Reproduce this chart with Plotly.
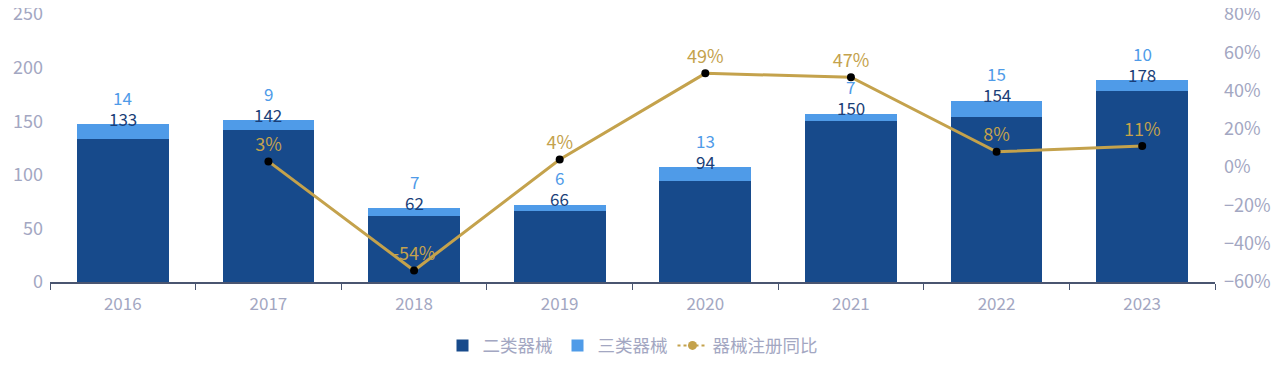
import plotly.graph_objects as go

years = [2016, 2017, 2018, 2019, 2020, 2021, 2022, 2023]
class2 = [133, 142, 62, 66, 94, 150, 154, 178]
class3 = [14, 9, 7, 6, 13, 7, 15, 10]
yoy_years = [2017, 2018, 2019, 2020, 2021, 2022, 2023]
yoy = [3, -54, 4, 49, 47, 8, 11]

DARK = "#174a8b"
LIGHT = "#4f9be8"
GOLD = "#c4a24c"
AXIS = "#a3a7c2"
FONT = "Noto Sans CJK SC"

fig = go.Figure()
fig.add_bar(x=years, y=class2, name="二类器械", marker=dict(color=DARK, line=dict(width=0)),
            width=0.63)
fig.add_bar(x=years, y=class3, name="三类器械", marker=dict(color=LIGHT, line=dict(width=0)),
            width=0.63)
fig.add_scatter(x=yoy_years, y=yoy, yaxis="y2", mode="lines+markers+text",
                line=dict(color=GOLD, width=3),
                marker=dict(color="black", size=8),
                text=[f"{v}%" for v in yoy], textposition="top center",
                textfont=dict(color=GOLD, size=18, family=FONT),
                showlegend=False, cliponaxis=False)
fig.add_scatter(x=[years[0]], y=[None], yaxis="y2", mode="lines+markers", name="器械注册同比",
                line=dict(color=GOLD, width=2, dash="dot"),
                marker=dict(color=GOLD, size=9))

for x, a, b in zip(years, class2, class3):
    fig.add_annotation(x=x, y=a + b, yanchor="middle", showarrow=False, yshift=6,
                       text=str(a), font=dict(size=17, family=FONT, color="#1b3f78"))
    fig.add_annotation(x=x, y=a + b, yanchor="middle", showarrow=False, yshift=27,
                       text=str(b), font=dict(size=17, family=FONT, color=LIGHT))

boundaries = [y - 0.5 for y in years] + [years[-1] + 0.5]

fig.update_layout(
    barmode="stack",
    width=1264, height=366,
    margin=dict(l=42, r=57, t=6, b=92, autoexpand=False),
    plot_bgcolor="white", paper_bgcolor="white",
    font=dict(family=FONT, color=AXIS, size=16),
    xaxis=dict(type="linear", range=[years[0] - 0.5, years[-1] + 0.5],
               tickvals=years, ticktext=[str(y) for y in years],
               showline=True, linecolor="#4a5570", linewidth=1.5, ticks="",
               ticklabelstandoff=6,
               minor=dict(tickvals=boundaries, ticks="outside", ticklen=6,
                          tickcolor="#4a5570", tickwidth=1, showgrid=False),
               tickfont=dict(size=17, color=AXIS), showgrid=False, zeroline=False),
    yaxis=dict(range=[0, 250], dtick=50, showgrid=False, zeroline=False,
               ticklabeloverflow="allow", ticklabelstandoff=6,
               tickfont=dict(size=18, color=AXIS)),
    yaxis2=dict(range=[-60, 80], dtick=20, overlaying="y", side="right", showgrid=False,
                zeroline=False, ticksuffix="%", ticklabeloverflow="allow",
                ticklabelstandoff=8, tickfont=dict(size=18, color=AXIS)),
    legend=dict(orientation="h", x=0.5, xanchor="center", y=-0.17, yanchor="top",
                traceorder="normal", font=dict(size=17.5, color=AXIS)),
)
fig.write_html("out.html")
